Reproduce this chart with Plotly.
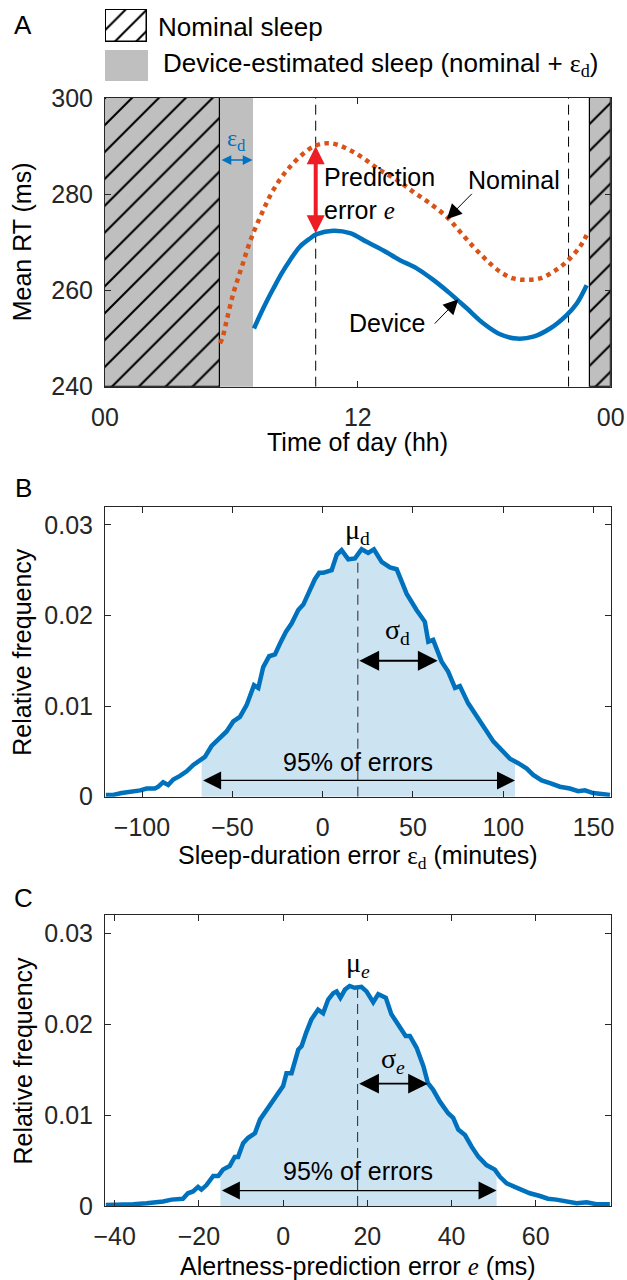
import numpy as np
import plotly.graph_objects as go

W, H = 627, 1280
SANS = "Liberation Sans, Arial, sans-serif"
SERIF = "Liberation Serif, Times New Roman, serif"
BLUE = "#0072BD"
ORANGE = "#D95319"
RED = "#EE1C25"
GRAY = "#BFBFBF"
AX = "#262626"

# ---------------- Panel A data ----------------
hours_nominal = [5.46, 5.59, 5.78, 6.09, 6.49, 6.91, 7.44, 7.99, 8.78, 9.89, 10.68, 11.47, 12.26,
                 13.05, 13.84, 14.63, 15.42, 16.22, 16.85, 17.48, 18.11, 18.75, 19.38, 20.01,
                 20.64, 21.28, 21.91, 22.54, 22.86]
rt_nominal = [249.0, 250.4, 253.9, 259.4, 264.9, 270.5, 276.0, 280.9, 285.7, 289.9, 290.6, 289.5,
              287.5, 285.0, 283.0, 280.5, 278.1, 275.3, 272.2, 269.1, 266.3, 263.9, 262.5, 262.2,
              262.5, 263.9, 266.0, 269.1, 271.5]
hours_device = [7.07, 7.36, 7.67, 7.99, 8.39, 8.78, 9.25, 9.73, 10.05, 10.84, 11.63, 12.42, 13.21,
                14.0, 14.79, 15.58, 16.37, 17.17, 17.95, 18.75, 19.54, 20.33, 21.12, 21.91,
                22.39, 22.86]
rt_device = [252.1, 254.9, 257.7, 260.4, 263.6, 266.3, 269.1, 270.8, 271.7, 272.4, 271.9, 270.1,
             268.3, 266.3, 264.6, 262.2, 259.4, 256.3, 253.2, 250.9, 250.0, 250.4, 252.1, 254.9,
             257.3, 261.1]
nominal_sleep_start = [0.0, 23.0]
nominal_sleep_end = [5.46, 24.0]
device_sleep_start = [0.0, 23.0]
device_sleep_end = [7.0, 24.0]
window_times = [10.0, 22.0]
error_time = 10.0
rt_range = [240, 300]
a_xticks = [0, 12, 24]
a_xticklabels = ["00", "12", "00"]
a_yticks = [240, 260, 280, 300]

# ---------------- Panel B data ----------------
sleep_err_min = [-120, -116, -111.3, -106.7, -101, -97.5, -92.9, -91, -88.3, -85.5, -82.7, -79,
                 -75.3, -71.6, -67.9, -65.2, -61.5, -57.8, -53.2, -49.5, -45.8, -42.1, -38, -35.6,
                 -32.9, -29.6, -26.4, -23.6, -20.3, -17.2, -13.5, -10.7, -7, -4.3, -1.9, 0.3, 5,
                 7.8, 10.5, 14.2, 17.9, 21.6, 25.2, 28.4, 32.7, 37.3, 41, 46.5, 52, 56.6, 58.5,
                 61.2, 65.9, 69.5, 73.3, 76, 80.6, 85.3, 89.9, 94.5, 99.1, 103.7, 108.3, 113,
                 116.6, 121.3, 125.9, 131.4, 136.9, 141.5, 145.2, 149.8, 154.5, 159.1]
sleep_err_freq = [0.0002, 0.0002, 0.0004, 0.0005, 0.0007, 0.0009, 0.0009, 0.0011, 0.0016, 0.0013,
                  0.0019, 0.0023, 0.0028, 0.0035, 0.004, 0.0044, 0.0056, 0.0063, 0.0072, 0.0083,
                  0.0088, 0.0101, 0.0123, 0.012, 0.0143, 0.0155, 0.0157, 0.0169, 0.0182, 0.0191,
                  0.0206, 0.0212, 0.0228, 0.024, 0.0247, 0.0247, 0.025, 0.0267, 0.0272, 0.0262,
                  0.0263, 0.0273, 0.0269, 0.0273, 0.0259, 0.0253, 0.0251, 0.0224, 0.0206, 0.0193,
                  0.0171, 0.0173, 0.0149, 0.0138, 0.012, 0.0122, 0.0103, 0.0088, 0.0075, 0.0061,
                  0.0052, 0.0042, 0.0037, 0.0031, 0.0024, 0.0018, 0.0015, 0.0011, 0.0009, 0.0006,
                  0.0007, 0.0004, 0.0003, 0.0002]
mu_d = 19.5
sigma_d = 44.2
ci_d = [-67.0, 106.5]
b_xticks = [-100, -50, 0, 50, 100, 150]
b_range = [-120.5, 159.5]

# ---------------- Panel C data ----------------
alert_err_ms = [-42.1, -38.8, -35.6, -32.4, -30.1, -28.5, -26.5, -23.8, -22.6, -21.4, -20.2, -19.4,
                -18.2, -16.6, -15.4, -14.3, -12.7, -11.5, -10.7, -9.5, -8.3, -6.7, -5.5, -3.9,
                -2.8, -1.2, 0, 0.8, 2, 3.6, 4.4, 5.5, 6.7, 8.3, 9.5, 10.7, 11.9, 12.7, 13.6, 14.7,
                15.8, 17, 18.6, 19.8, 21.4, 22.6, 24.4, 25.7, 27.3, 29.1, 30.1, 31.7, 33.3, 34.4,
                35.6, 37.2, 39.2, 40.4, 41.6, 43.2, 44.8, 46.4, 48.3, 50.3, 51.5, 53.1, 55, 56.6,
                58.6, 61, 62.9, 64.9, 67.3, 69.7, 72.1, 74.4, 77.6]
alert_err_freq = [0.0001, 0.0001, 0.0002, 0.0003, 0.0004, 0.0005, 0.0007, 0.0008, 0.0014, 0.0016,
                  0.0021, 0.0018, 0.0023, 0.0033, 0.0033, 0.004, 0.0044, 0.0054, 0.0054, 0.0069,
                  0.0075, 0.008, 0.0095, 0.0106, 0.0114, 0.0124, 0.0132, 0.0146, 0.0146, 0.0172,
                  0.0176, 0.0191, 0.0205, 0.0216, 0.0212, 0.0227, 0.0234, 0.0236, 0.0229, 0.0238,
                  0.0242, 0.024, 0.0241, 0.0236, 0.0224, 0.0233, 0.0229, 0.0211, 0.02, 0.0187,
                  0.0187, 0.0174, 0.0154, 0.0135, 0.0128, 0.0115, 0.0102, 0.0097, 0.0084, 0.0078,
                  0.0065, 0.0054, 0.0045, 0.004, 0.0032, 0.0025, 0.0021, 0.0018, 0.0014, 0.0011,
                  0.0008, 0.0007, 0.0005, 0.0003, 0.0004, 0.0002, 0.0002]
mu_e = 17.7
sigma_e = 16.7
ci_e = [-14.9, 50.7]
c_xticks = [-40, -20, 0, 20, 40, 60]
c_range = [-42.3, 77.8]

freq_ticks = [0, 0.01, 0.02, 0.03]
freq_ticklabels = ["0", "0.01", "0.02", "0.03"]
freq_range = [0, 0.032]


def fx(p):
    return p / W


def fy(p):
    return 1 - p / H


def serif(t):
    return f'<span style="font-family:{SERIF}">{t}</span>'


fig = go.Figure()

# ---------- Panel A ----------
dev_w = [e - s for s, e in zip(device_sleep_start, device_sleep_end)]
dev_c = [(s + e) / 2 for s, e in zip(device_sleep_start, device_sleep_end)]
fig.add_trace(go.Bar(x=dev_c, y=[rt_range[1] - rt_range[0]] * len(dev_c), base=[rt_range[0]] * len(dev_c),
                     width=dev_w, marker=dict(color=GRAY, line=dict(width=0)),
                     xaxis="x", yaxis="y", showlegend=False, hoverinfo="skip"))
nom_w = [e - s for s, e in zip(nominal_sleep_start, nominal_sleep_end)]
nom_c = [(s + e) / 2 for s, e in zip(nominal_sleep_start, nominal_sleep_end)]
fig.add_trace(go.Bar(x=nom_c, y=[rt_range[1] - rt_range[0]] * len(nom_c), base=[rt_range[0]] * len(nom_c),
                     width=nom_w,
                     marker=dict(color=GRAY, line=dict(width=1.2, color="black"),
                                 pattern=dict(shape="/", fgcolor="black", bgcolor=GRAY,
                                              size=19, solidity=0.11)),
                     xaxis="x", yaxis="y", showlegend=False, hoverinfo="skip"))
for t in window_times:
    fig.add_trace(go.Scatter(x=[t, t], y=rt_range, mode="lines",
                             line=dict(color="black", width=1, dash="10px,6px"),
                             xaxis="x", yaxis="y", showlegend=False, hoverinfo="skip"))
fig.add_trace(go.Scatter(x=hours_nominal, y=rt_nominal, mode="lines", line_shape="spline",
                         line=dict(color=ORANGE, width=4.5, dash="4.5px,4.5px"),
                         xaxis="x", yaxis="y", showlegend=False))
fig.add_trace(go.Scatter(x=hours_device, y=rt_device, mode="lines", line_shape="spline",
                         line=dict(color=BLUE, width=4.5),
                         xaxis="x", yaxis="y", showlegend=False))


# ---------- Panels B and C ----------
def add_hist(xs, ys, ci, mu, xa, ya):
    xs = np.asarray(xs, float)
    ys = np.asarray(ys, float)
    inside = (xs > ci[0]) & (xs < ci[1])
    fx_ = np.concatenate([[ci[0]], xs[inside], [ci[1]]])
    fy_ = np.concatenate([[np.interp(ci[0], xs, ys)], ys[inside], [np.interp(ci[1], xs, ys)]])
    fig.add_trace(go.Scatter(x=fx_, y=fy_, mode="lines", line=dict(width=0), fill="tozeroy",
                             fillcolor="rgba(0,114,189,0.2)", xaxis=xa, yaxis=ya,
                             showlegend=False, hoverinfo="skip"))
    fig.add_trace(go.Scatter(x=[mu, mu], y=[0, float(np.interp(mu, xs, ys))], mode="lines",
                             line=dict(color=AX, width=1, dash="10px,6px"), xaxis=xa, yaxis=ya,
                             showlegend=False, hoverinfo="skip"))
    fig.add_trace(go.Scatter(x=xs, y=ys, mode="lines", line=dict(color=BLUE, width=4.5),
                             xaxis=xa, yaxis=ya, showlegend=False))


add_hist(sleep_err_min, sleep_err_freq, ci_d, mu_d, "x2", "y2")
add_hist(alert_err_ms, alert_err_freq, ci_e, mu_e, "x3", "y3")

# ---------- Legend swatches ----------
fig.add_trace(go.Bar(x=[0], y=[1], width=[1],
                     marker=dict(color="white", line=dict(width=1.5, color="black"),
                                 pattern=dict(shape="/", fgcolor="black", bgcolor="white",
                                              size=15, solidity=0.14)),
                     xaxis="x4", yaxis="y4", showlegend=False, hoverinfo="skip"))
fig.add_trace(go.Bar(x=[0], y=[1], width=[1], marker=dict(color=GRAY, line=dict(width=0)),
                     xaxis="x5", yaxis="y5", showlegend=False, hoverinfo="skip"))

# ---------- Axes ----------
base = dict(showline=True, linecolor=AX, linewidth=1, mirror="ticks", ticks="inside", ticklen=6,
            tickcolor=AX, tickwidth=1, showgrid=False, zeroline=False, automargin=False,
            tickfont=dict(family=SANS, size=25, color=AX))
hid = dict(visible=False, automargin=False, showgrid=False, zeroline=False)
xdom = [fx(105), fx(610.7)]
fig.update_layout(
    template="none",
    width=W, height=H, margin=dict(l=0, r=0, t=0, b=0, pad=0), autosize=False,
    paper_bgcolor="white", plot_bgcolor="white", barmode="overlay", bargap=0,
    xaxis=dict(base, domain=xdom, range=[0, 24], tickvals=a_xticks, ticktext=a_xticklabels,
               anchor="y", ticklabelstandoff=8),
    yaxis=dict(base, domain=[fy(386.7), fy(98)], range=rt_range, tickvals=a_yticks,
               anchor="x", ticklabelstandoff=6),
    xaxis2=dict(base, domain=xdom, range=b_range, tickvals=b_xticks, anchor="y2",
                ticklabelstandoff=8),
    yaxis2=dict(base, domain=[fy(796.7), fy(506.7)], range=freq_range, tickvals=freq_ticks,
                ticktext=freq_ticklabels, anchor="x2", ticklabelstandoff=6),
    xaxis3=dict(base, domain=xdom, range=c_range, tickvals=c_xticks, anchor="y3",
                ticklabelstandoff=8),
    yaxis3=dict(base, domain=[fy(1206), fy(915)], range=freq_range, tickvals=freq_ticks,
                ticktext=freq_ticklabels, anchor="x3", ticklabelstandoff=6),
    xaxis4=dict(hid, domain=[fx(105), fx(148)], range=[-0.52, 0.52], anchor="y4"),
    yaxis4=dict(hid, domain=[fy(43), fy(9)], range=[-0.03, 1.03], anchor="x4"),
    xaxis5=dict(hid, domain=[fx(105), fx(148)], range=[-0.5, 0.5], anchor="y5"),
    yaxis5=dict(hid, domain=[fy(81), fy(50)], range=[0, 1], anchor="x5"),
)

ann = []


def txt(x, y, text, size=25, xref="paper", yref="paper", xanchor="center", yanchor="middle",
        angle=0, align="center", color="black"):
    ann.append(dict(x=x, y=y, text=text, xref=xref, yref=yref, showarrow=False,
                    xanchor=xanchor, yanchor=yanchor, textangle=angle, align=align,
                    font=dict(family=SANS, size=size, color=color)))


def arrow(x0, y0, x1, y1, xa, ya, color="black", width=1.5, size=2.0, both=False, head=2):
    d = dict(x=x1, y=y1, ax=x0, ay=y0, xref=xa, yref=ya, axref=xa, ayref=ya, text="",
             showarrow=True, arrowhead=head, arrowsize=size, arrowwidth=width, arrowcolor=color,
             standoff=0, startstandoff=0)
    if both:
        d.update(arrowside="end+start", startarrowhead=head, startarrowsize=size)
    ann.append(d)


# panel letters
txt(fx(23), fy(25), "A", size=26)
txt(fx(23), fy(488), "B", size=26)
txt(fx(23), fy(898), "C", size=26)

# legend texts
txt(fx(156), fy(27), "Nominal sleep", size=26, xanchor="left")
txt(fx(161), fy(64), "Device-estimated sleep (nominal + " + serif("ε<sub>d</sub>") + ")",
    size=26, xanchor="left")

# axis titles
cx = fx((105 + 610.7) / 2)
txt(cx, fy(442), "Time of day (hh)")
txt(cx, fy(856.7), "Sleep-duration error " + serif("ε<sub>d</sub>") + " (minutes)")
txt(cx, fy(1266), "Alertness-prediction error " + serif("<i>e</i>") + " (ms)")
txt(fx(22), fy((98 + 386.7) / 2), "Mean RT (ms)", angle=-90)
txt(fx(22), fy((506.7 + 796.7) / 2), "Relative frequency", angle=-90)
txt(fx(22), fy((915 + 1206) / 2), "Relative frequency", angle=-90)

# Panel A annotations
e_top = float(np.interp(error_time, hours_nominal, rt_nominal))
e_bot = float(np.interp(error_time, hours_device, rt_device))
arrow(error_time, e_bot, error_time, e_top, "x", "y", color=RED, width=4, size=0.9, both=True)
arrow(nominal_sleep_end[0], 287.1, device_sleep_end[0], 287.1, "x", "y", color=BLUE,
      width=1.5, size=1.3, both=True)
txt((nominal_sleep_end[0] + device_sleep_end[0]) / 2, 291.2,
    serif("ε<sub>d</sub>"), size=24, xref="x", yref="y", color=BLUE)
txt(10.3, 280.2, "Prediction<br>error " + serif("<i>e</i>"), xref="x", yref="y",
    xanchor="left", align="left")
txt(19.4, 283.0, "Nominal", xref="x", yref="y")
txt(13.4, 253.2, "Device", xref="x", yref="y")
arrow(17.48, 280.4, 16.22, 274.8, "x", "y", width=1, size=3)
arrow(15.58, 252.8, 16.77, 258.2, "x", "y", width=1, size=3)

# Panel B annotations
txt(mu_d, 0.0293, serif("μ<sub>d</sub>"), size=28, xref="x2", yref="y2")
txt(mu_d + sigma_d / 2, 0.0182, serif("σ<sub>d</sub>"), size=28, xref="x2", yref="y2")
arrow(mu_d, 0.0150, mu_d + sigma_d, 0.0150, "x2", "y2", width=1.8, size=2.2, both=True)
txt((ci_d[0] + ci_d[1]) / 2, 0.0038, "95% of errors", xref="x2", yref="y2")
arrow(ci_d[0], 0.0018, ci_d[1], 0.0018, "x2", "y2", width=1.2, size=3, both=True)

# Panel C annotations
txt(mu_e, 0.0266, serif("μ<sub><i>e</i></sub>"), size=28, xref="x3", yref="y3")
txt(mu_e + sigma_e / 2, 0.0160, serif("σ<sub><i>e</i></sub>"), size=28, xref="x3", yref="y3")
arrow(mu_e, 0.01345, mu_e + sigma_e, 0.01345, "x3", "y3", width=1.8, size=2.2, both=True)
txt((ci_e[0] + ci_e[1]) / 2, 0.0038, "95% of errors", xref="x3", yref="y3")
arrow(ci_e[0], 0.0017, ci_e[1], 0.0017, "x3", "y3", width=1.2, size=3, both=True)

fig.update_layout(annotations=ann)
fig.write_html("out.html", config={"displayModeBar": False},
               post_script="document.body.style.margin='0';document.body.style.overflow='hidden';")
